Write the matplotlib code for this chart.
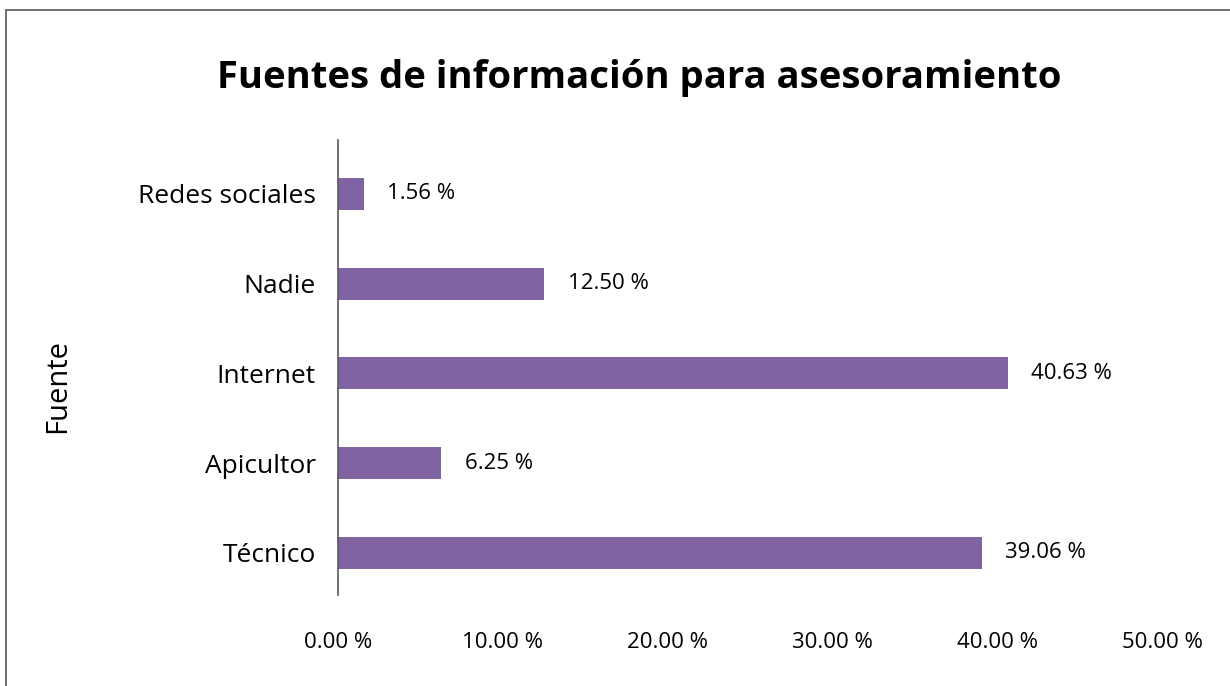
import matplotlib.pyplot as plt
from matplotlib.patches import Rectangle
from matplotlib.ticker import FuncFormatter

fuentes = ["Técnico", "Apicultor", "Internet", "Nadie", "Redes sociales"]
porcentajes = [39.06, 6.25, 40.63, 12.50, 1.56]
x_ticks = [0, 10, 20, 30, 40, 50]

plt.rcParams["font.family"] = ["Open Sans", "DejaVu Sans"]

fig = plt.figure(figsize=(12.3, 6.86), dpi=100)
ax = fig.add_axes([0.2748, 0.1327, 0.670, 0.6632])

bars = ax.barh(fuentes, porcentajes, height=0.357, color="#8064A2")
for bar, val in zip(bars, porcentajes):
    ax.annotate(f"{val:.2f} %", (bar.get_width(), bar.get_y() + bar.get_height() / 2),
                xytext=(17, 0), textcoords="offset points", va="center", ha="left", fontsize=16)

ax.set_xlim(0, 50)
ax.set_ylim(-0.468, 4.60)
ax.set_xticks(x_ticks)
ax.xaxis.set_major_formatter(FuncFormatter(lambda v, p: f"{v:.2f} %"))
ax.tick_params(axis="x", length=0, pad=27, labelsize=16)
ax.tick_params(axis="y", length=0, pad=16, labelsize=19)
for s in ["top", "right", "bottom"]:
    ax.spines[s].set_visible(False)
ax.spines["left"].set_color("#595959")
ax.spines["left"].set_linewidth(1.2)

fig.text(0.047, 0.438, "Fuente", rotation=90, ha="center", va="center", fontsize=21)
fig.text(0.52, 0.886, "Fuentes de información para asesoramiento", ha="center", va="center",
         fontsize=27.5, fontweight="bold")

fig.patches.append(Rectangle((6 / 1230, -0.1), 1.2, 1 - 10 / 686 + 0.1, transform=fig.transFigure,
                             fill=False, edgecolor="#595959", linewidth=1.2))

fig.savefig("out.png", dpi=100)
